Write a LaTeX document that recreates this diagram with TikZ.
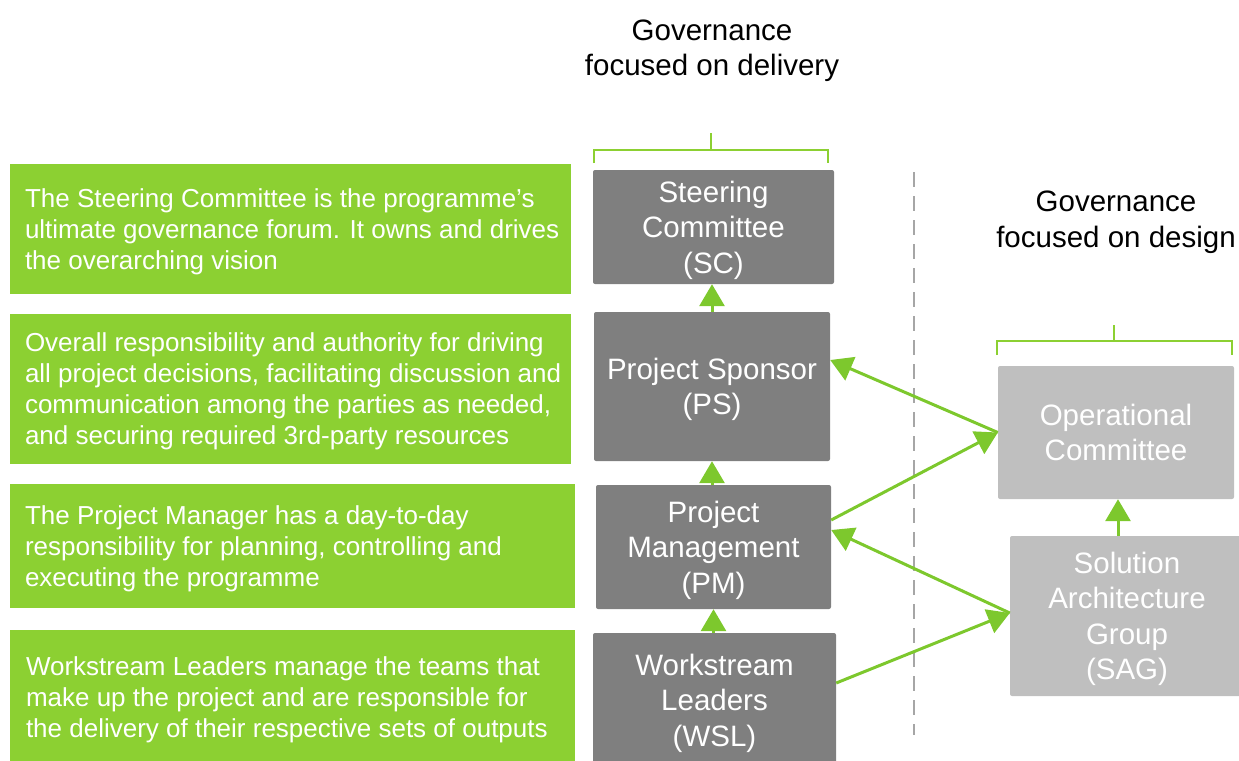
\documentclass[tikz,border=0pt]{standalone}
\usepackage{fontspec}
\setmainfont{Liberation Sans}
\usetikzlibrary{arrows.meta}

\definecolor{leafgreen}{RGB}{140,208,50}
\definecolor{arrowgreen}{RGB}{125,200,45}
\definecolor{darkbox}{RGB}{127,127,127}
\definecolor{lightbox}{RGB}{191,191,191}
\definecolor{divgrey}{RGB}{166,166,166}

\tikzset{
  descbox/.style={fill=leafgreen, inner sep=0pt},
  desctext/.style={text=white, align=left, inner sep=0pt, anchor=west, text depth=-2.5pt, font=\fontsize{26}{31}\selectfont},
  role/.style={fill=darkbox, text=white, align=center, inner sep=0pt, rounded corners=2pt, text depth=-2pt, font=\fontsize{29.5}{35.5}\selectfont},
  design/.style={role, fill=lightbox},
  heading/.style={align=center, text depth=-2pt, font=\fontsize{29.5}{35.5}\selectfont},
  flow/.style={arrowgreen, line width=3pt, -{Triangle[width=25pt,length=22pt]}},
  bracket/.style={leafgreen, line width=2.5pt},
  divider/.style={divgrey, line width=2pt, dash pattern=on 15pt off 9pt}
}

\begin{document}
\begin{tikzpicture}[x=1pt, y=-1pt]
	\useasboundingbox (0,0) rectangle (1239,760);

	% descriptions
	\node[descbox, minimum width=561, minimum height=130] (d1) at (290.5,229) {};
	\node[descbox, minimum width=561, minimum height=150] (d2) at (290.5,389) {};
	\node[descbox, minimum width=565, minimum height=124] (d3) at (292.5,546) {};
	\node[descbox, minimum width=565, minimum height=134] (d4) at (292.5,697) {};

	\node[desctext] (t1) at ([xshift=15]d1.west) {The Steering Committee is the programme’s\\ultimate governance forum. It owns and drives\\the overarching vision};
	\node[desctext] (t2) at ([xshift=15]d2.west) {Overall responsibility and authority for driving\\all project decisions, facilitating discussion and\\communication among the parties as needed,\\and securing required 3rd-party resources};
	\node[desctext] (t3) at ([xshift=15]d3.west) {The Project Manager has a day-to-day\\responsibility for planning, controlling and\\executing the programme};
	\node[desctext] (t4) at ([xshift=16]d4.west) {Workstream Leaders manage the teams that\\make up the project and are responsible for\\the delivery of their respective sets of outputs};

	% delivery roles
	\node[role, minimum width=241, minimum height=114] (SC)  at (713.5,227)   {Steering\\Committee\\(SC)};
	\node[role, minimum width=236, minimum height=149] (PS)  at (712,386.5)   {Project Sponsor\\(PS)};
	\node[role, minimum width=235, minimum height=124] (PM)  at (713.5,547)   {Project\\Management\\(PM)};
	\node[role, minimum width=243, minimum height=134] (WSL) at (714.5,700)   {Workstream\\Leaders\\(WSL)};

	% design roles
	\node[design, minimum width=236, minimum height=133, text depth=-4pt] (OC) at (1116,432.5) {Operational\\Committee};
	\node[design, minimum width=234, minimum height=160] (SAG) at (1127,616) {Solution\\Architecture\\Group\\(SAG)};

	% headings
	\node[heading] (hdel) at (712,47.5)  {Governance\\focused on delivery};
	\node[heading] (hdes) at (1116,219)  {Governance\\focused on design};

	\draw[bracket] (594,163) -- (594,150) -- (828,150) -- (828,163) (711,150) -- (711,133);
	\draw[bracket] (997,355) -- (997,341) -- (1232,341) -- (1232,355) (1114,341) -- (1114,325);

	\draw[divider] (914,172) -- (914,735);

	% arrows
	\draw[flow] (PS.north)  -- (PS.north |- SC.south);
	\draw[flow] (PM.north -| PS.south) -- (PS.south);
	\draw[flow] (WSL.north -| PM.south) -- (PM.south);
	\draw[flow] ([xshift=-9]SAG.north) -- ([xshift=2]OC.south);

	\draw[flow] (OC.west) -- ([yshift=26.5]PS.east);
	\draw[flow] ([yshift=27]PM.east) -- (OC.west);
	\draw[flow] ([yshift=3]SAG.west) -- ([yshift=17]PM.east);
	\draw[flow] ([yshift=17]WSL.east) -- ([yshift=3]SAG.west);
\end{tikzpicture}
\end{document}
